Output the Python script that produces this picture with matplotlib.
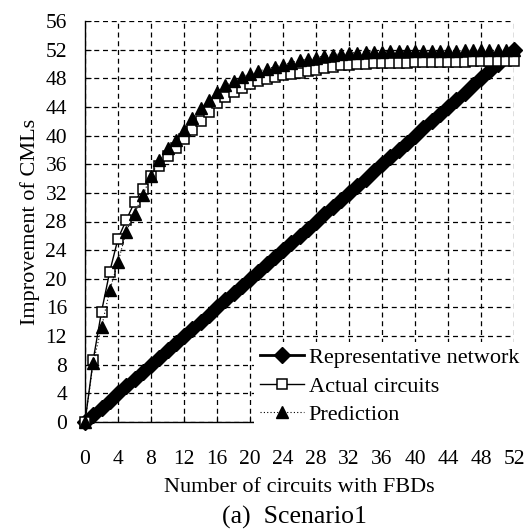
import matplotlib
matplotlib.use("Agg")
import matplotlib.pyplot as plt

# circuits with FBDs, 0..52
n_circuits = list(range(0, 53))

# representative network: one CML gained per circuit
representative = [float(v) for v in n_circuits]

actual = [0.0, 8.7, 15.4, 21.0, 25.6, 28.2, 30.7, 32.6, 34.3, 35.8,
          37.1, 38.2, 39.5, 40.8, 42.0, 43.3, 44.5, 45.4, 46.1, 46.7,
          47.2, 47.6, 47.9, 48.2, 48.4, 48.6, 48.8, 49.0, 49.2, 49.4,
          49.6, 49.8, 49.9, 50.0, 50.0, 50.1, 50.1, 50.2, 50.2, 50.2,
          50.3, 50.3, 50.3, 50.3, 50.3, 50.3, 50.3, 50.4, 50.4, 50.4,
          50.4, 50.4, 50.4]

prediction = [0.0, 8.3, 13.2, 18.4, 22.3, 26.6, 29.1, 31.7, 34.3, 36.6,
              38.2, 39.4, 40.8, 42.4, 43.8, 45.0, 46.1, 47.0, 47.6, 48.2,
              48.6, 49.0, 49.3, 49.6, 49.9, 50.2, 50.5, 50.7, 50.9, 51.1,
              51.3, 51.4, 51.5, 51.6, 51.7, 51.7, 51.7, 51.8, 51.8, 51.8,
              51.8, 51.8, 51.8, 51.8, 51.8, 51.8, 51.9, 51.9, 51.9, 51.9,
              51.9, 51.9, 51.9]

X_TICKS = list(range(0, 53, 4))
Y_TICKS = list(range(0, 57, 4))

plt.rcParams["font.family"] = ["Liberation Serif", "DejaVu Serif"]
TICK_FS = 15.5
LABEL_FS = 16

fig = plt.figure(figsize=(5.26, 5.31), dpi=100)
ax = fig.add_axes([85 / 526, 1 - 422 / 531, 429 / 526, 401 / 531])

ax.plot(n_circuits, representative, color="black", lw=2.0, marker="D", ms=8.5,
        mfc="black", mec="black", clip_on=False, zorder=3,
        label="Representative network")
ax.plot(n_circuits, actual, color="black", lw=1.0, marker="s", ms=7.5,
        mfc="white", mec="black", mew=1.1, clip_on=False, zorder=4,
        label="Actual circuits")
ax.plot(n_circuits, prediction, color="black", lw=0.8, ls=(0, (1, 2)),
        marker="^", ms=8, mfc="black", mec="black", clip_on=False,
        zorder=5, label="Prediction")

ax.set_xlim(0, 52)
ax.set_ylim(0, 56)
ax.set_xticks(X_TICKS)
ax.set_yticks(Y_TICKS)
ax.grid(True, color="black", ls=(0, (4, 3)), lw=0.9)
ax.set_axisbelow(True)
for side in ("top", "right"):
    ax.spines[side].set_visible(False)
for side in ("left", "bottom"):
    ax.spines[side].set_linewidth(1.0)
ax.tick_params(direction="in", length=4, labelsize=TICK_FS)
ax.tick_params(axis="y", pad=13)
ax.tick_params(axis="x", pad=20)

ax.set_xlabel("Number of circuits with FBDs", fontsize=LABEL_FS, labelpad=7)
ax.set_ylabel("Improvement of CMLs", fontsize=LABEL_FS, labelpad=4)
fig.text(294 / 526, 1 - 517 / 531, "(a)  Scenario1",
         ha="center", va="center", fontsize=18.5)

leg = ax.legend(loc="lower right", bbox_to_anchor=(1.025, -0.022),
                frameon=True, fancybox=False, edgecolor="none",
                facecolor="white", framealpha=1.0, fontsize=LABEL_FS,
                handlelength=2.0, handletextpad=0.2, labelspacing=0.36,
                borderpad=0.25, borderaxespad=0.0)

fig.savefig("out.png", dpi=100, facecolor="white")
